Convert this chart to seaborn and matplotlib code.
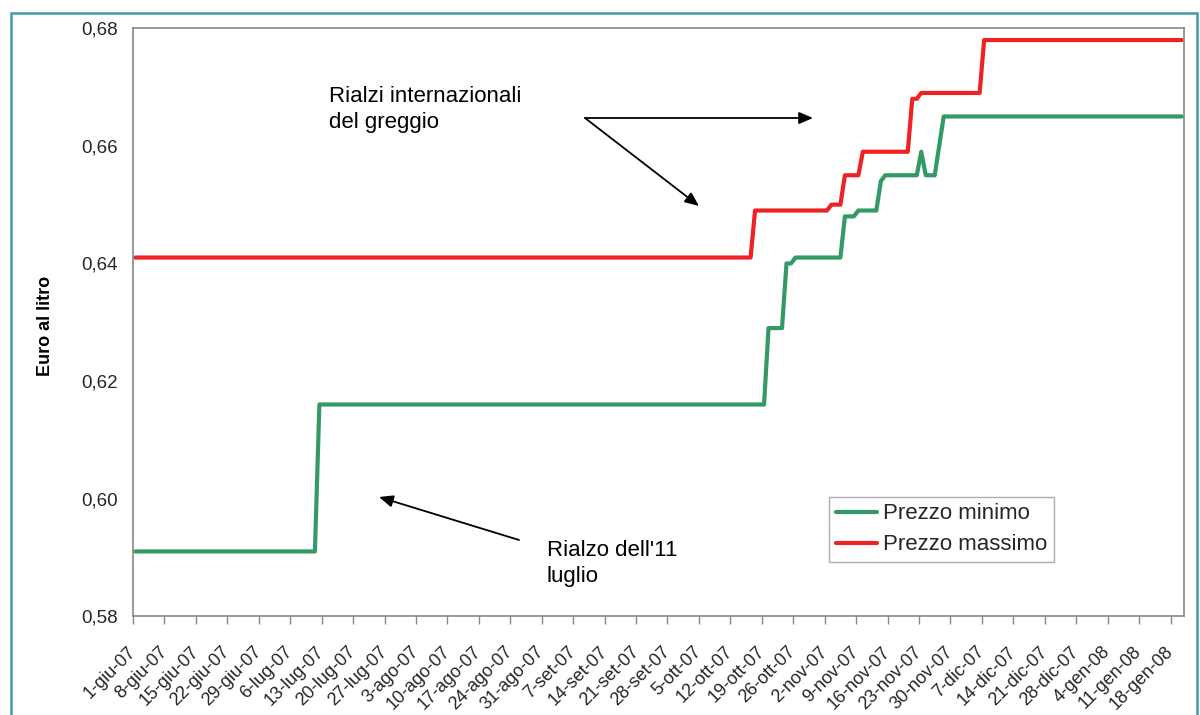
import numpy as np
import pandas as pd
import matplotlib
matplotlib.use("Agg")
import matplotlib.pyplot as plt
from matplotlib.patches import Rectangle
from matplotlib.lines import Line2D
import seaborn as sns

# ---------------- data ----------------
series_names = ["Prezzo minimo", "Prezzo massimo"]
series_colors = ["#339966", "#EE2222"]

# price changes: date of change and new price (held until the next change)
min_change_dates = ["2007-06-01", "2007-07-12", "2007-10-20", "2007-10-24", "2007-10-26",
                    "2007-11-06", "2007-11-09", "2007-11-14", "2007-11-15", "2007-11-23",
                    "2007-11-24", "2007-11-27", "2007-11-28"]
min_values = [0.591, 0.616, 0.629, 0.640, 0.641, 0.648, 0.649, 0.654, 0.655, 0.659,
              0.655, 0.660, 0.665]

max_change_dates = ["2007-06-01", "2007-10-17", "2007-11-03", "2007-11-06", "2007-11-10",
                    "2007-11-21", "2007-11-23", "2007-12-07"]
max_values = [0.641, 0.649, 0.650, 0.655, 0.659, 0.668, 0.669, 0.678]

first_day = "2007-06-01"
last_day = "2008-01-20"
mesi = ["gen", "feb", "mar", "apr", "mag", "giu", "lug", "ago", "set", "ott", "nov", "dic"]

y_ticks = [0.58, 0.60, 0.62, 0.64, 0.66, 0.68]
y_tick_labels = ["0,58", "0,60", "0,62", "0,64", "0,66", "0,68"]
y_grid_ticks = [0.62, 0.66]
y_label = "Euro al litro"
note_crude = "Rialzi internazionali\ndel greggio"
note_july = "Rialzo dell'11\nluglio"

# ---------------- build daily table ----------------
days = pd.date_range(first_day, last_day, freq="D")


def daily(dates, vals):
    s = pd.Series(vals, index=pd.to_datetime(dates))
    return s.reindex(days, method="ffill").to_numpy()  # a price holds until it changes


x_pos = days + pd.Timedelta(hours=12)  # each day plotted in the middle of its slot
df = pd.DataFrame({
    "Data": np.concatenate([x_pos, x_pos]),
    "Prezzo": np.concatenate([daily(min_change_dates, min_values),
                              daily(max_change_dates, max_values)]),
    "Serie": [series_names[0]] * len(days) + [series_names[1]] * len(days),
})

# ---------------- style ----------------
sns.set_theme(style="white")
plt.rcParams["font.family"] = ["Liberation Sans", "DejaVu Sans"]
plt.rcParams["axes.axisbelow"] = True

W, H = 1200, 715
fig = plt.figure(figsize=(W / 100, H / 100), dpi=100)
L, R, T, B = 133, 1184, 28.3, 616.1
ax = fig.add_axes([L / W, 1 - B / H, (R - L) / W, (B - T) / H])

sns.lineplot(data=df, x="Data", y="Prezzo", hue="Serie", hue_order=series_names,
             palette=dict(zip(series_names, series_colors)), linewidth=3,
             ax=ax, legend=False, sort=True)

ax.set_xlim(pd.Timestamp(first_day), pd.Timestamp(last_day) + pd.Timedelta(days=1))
ax.set_ylim(y_ticks[0], y_ticks[-1])

# x ticks
xt = pd.date_range(first_day, last_day, freq="7D")
xt_labels = [f"{d.day}-{mesi[d.month - 1]}-{d.year % 100:02d}" for d in xt]
ax.set_xticks(xt)
ax.set_xticklabels(xt_labels, rotation=45, ha="right", va="center",
                   rotation_mode="anchor", fontsize=13)
ax.tick_params(axis="x", direction="out", length=6, width=1, color="#888888",
               pad=18, bottom=True)

# y ticks
ax.set_yticks(y_ticks)
ax.set_yticklabels(y_tick_labels, fontsize=13.5)
ax.set_yticks(y_grid_ticks, minor=True)
ax.tick_params(axis="y", which="major", length=0, pad=11, left=True)
ax.tick_params(axis="y", which="minor", direction="out", length=6, width=1,
               color="#888888", left=True)
ax.yaxis.grid(True, which="minor", color="#e3e3e3", linewidth=1)
ax.xaxis.grid(False)
ax.set_xlabel("")
ax.set_ylabel("")
for sp in ax.spines.values():
    sp.set_visible(True)
    sp.set_color("#888888")
    sp.set_linewidth(1.2)

fig.text(46 / W, 1 - 326 / H, y_label, rotation=90, ha="center", va="center",
         fontsize=13, fontweight="bold", color="black")

# legend
handles = [Line2D([], [], color=c, linewidth=3) for c in series_colors]
leg = ax.legend(handles, series_names, loc="upper left",
                bbox_to_anchor=((829.3 - L) / (R - L), (B - 496.7) / (B - T)),
                borderaxespad=0, fontsize=16, handlelength=1.85, handletextpad=0.25,
                labelspacing=0.45, borderpad=0.3, frameon=True, fancybox=False)
leg.get_frame().set_edgecolor("#999999")
leg.get_frame().set_linewidth(1)


def ax_xy(px, py):
    return ((px - L) / (R - L), (B - py) / (B - T))


# white text box behind the crude-oil note
x0, y0 = ax_xy(324.8, 150)
x1, y1 = ax_xy(543.5, 70)
ax.add_patch(Rectangle((x0, y0), x1 - x0, y1 - y0, transform=ax.transAxes,
                       facecolor="white", edgecolor="none", zorder=1))

tx, ty = ax_xy(329, 86)
ax.text(tx, ty, note_crude, transform=ax.transAxes, ha="left", va="top",
        fontsize=16, color="black", linespacing=1.3, zorder=5)

tx, ty = ax_xy(547, 540)
ax.text(tx, ty, note_july, transform=ax.transAxes, ha="left", va="top",
        fontsize=16, color="black", linespacing=1.3, zorder=5)

arrow = dict(arrowstyle="-|>,head_length=0.7,head_width=0.3", color="black",
             lw=1.3, shrinkA=0, shrinkB=0)
ax.annotate("", xy=ax_xy(813, 118), xytext=ax_xy(585, 118),
            xycoords="axes fraction", textcoords="axes fraction", arrowprops=arrow)
ax.annotate("", xy=ax_xy(699, 206), xytext=ax_xy(585, 118),
            xycoords="axes fraction", textcoords="axes fraction", arrowprops=arrow)
ax.annotate("", xy=ax_xy(379, 497), xytext=ax_xy(519, 540),
            xycoords="axes fraction", textcoords="axes fraction", arrowprops=arrow)

# teal outer frame
fig.patches.append(Rectangle((10.5 / W, -0.05), (1197 - 10.5) / W, 1 - 13 / H + 0.05,
                             transform=fig.transFigure, fill=False,
                             edgecolor="#3E9CA3", linewidth=1.8, zorder=10))

fig.savefig("out.png", dpi=100, facecolor="white")
